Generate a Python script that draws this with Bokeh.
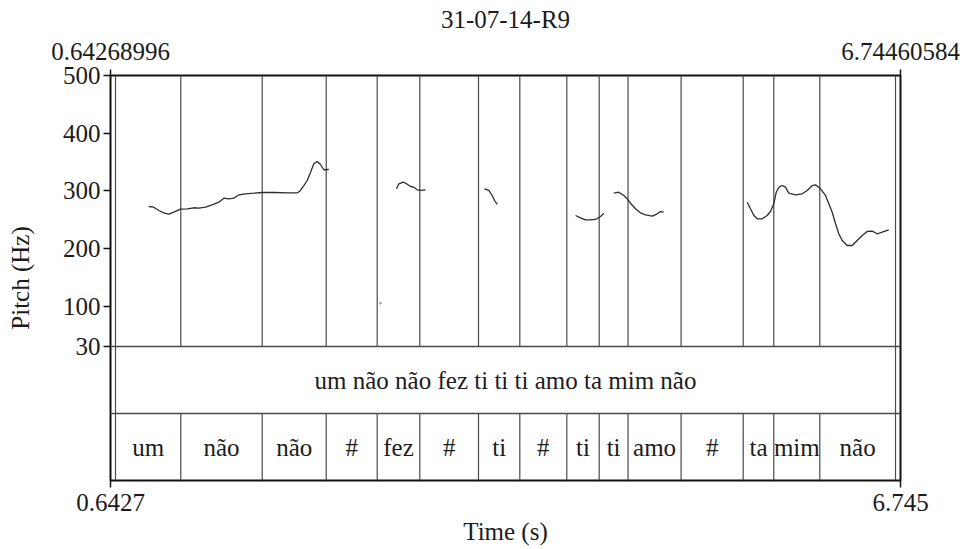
from bokeh.plotting import figure
from bokeh.models import Range1d, LinearAxis, FixedTicker, ColumnDataSource
from bokeh.core.properties import value
from bokeh.embed import file_html
from bokeh.resources import INLINE

# ---- data -------------------------------------------------------------
TITLE = "31-07-14-R9"
T_START = 0.64268996
T_END = 6.74460584
F_MIN, F_MAX = 30, 500
y_ticks = [30, 100, 200, 300, 400, 500]

sentence = "um não não fez ti ti ti amo ta mim não"
sentence_bounds = [0.6813, 6.7061]

words = ["um", "não", "não", "#", "fez", "#", "ti", "#", "ti", "ti",
         "amo", "#", "ta", "mim", "não"]
word_bounds = [0.6813, 1.1857, 1.8144, 2.3088, 2.7027, 3.0317, 3.4851,
               3.8041, 4.1672, 4.4174, 4.6400, 5.0500, 5.5296, 5.7660,
               6.1213, 6.7061]

# pitch contour pieces (time in s, F0 in Hz)
um_nao_t = [0.939, 0.977, 1.016, 1.054, 1.093, 1.132, 1.183, 1.235, 1.286,
            1.325, 1.377, 1.428, 1.479, 1.518, 1.556, 1.595, 1.634, 1.685,
            1.750, 1.814, 1.904, 2.008, 2.085, 2.105, 2.136, 2.162, 2.188,
            2.213, 2.239, 2.265, 2.290, 2.329]
um_nao_hz = [272.8, 271.6, 265.9, 261.9, 259.5, 262.9, 268.1, 268.8, 270.6,
             269.9, 271.6, 275.8, 280.3, 287.2, 286.0, 287.2, 293.1, 294.8,
             295.9, 297.1, 297.1, 296.6, 296.6, 299.3, 309.2, 317.9, 332.3,
             346.9, 350.8, 345.6, 336.5, 337.0]

fez_t = [2.852, 2.870, 2.904, 2.929, 2.960, 2.985, 3.012, 3.037, 3.076]
fez_hz = [303.5, 312.2, 315.0, 312.2, 307.5, 306.3, 301.8, 300.6, 301.8]

ti_t = [3.531, 3.565, 3.591, 3.609, 3.630]
ti_hz = [303.5, 300.6, 291.9, 283.2, 276.3]

ti_ti_t = [4.235, 4.273, 4.312, 4.350, 4.389, 4.428, 4.453]
ti_ti_hz = [257.2, 253.2, 249.7, 249.7, 250.3, 255.5, 261.2]

amo_t = [4.530, 4.569, 4.607, 4.634, 4.659, 4.698, 4.736, 4.775, 4.827,
         4.865, 4.891, 4.916]
amo_hz = [295.9, 297.6, 291.9, 286.2, 278.5, 268.8, 261.9, 258.4, 256.0,
          260.1, 264.1, 262.9]

ta_mim_nao_t = [5.561, 5.586, 5.612, 5.638, 5.676, 5.715, 5.741, 5.766,
                5.785, 5.805, 5.831, 5.856, 5.882, 5.934, 5.985, 6.024,
                6.063, 6.088, 6.127, 6.165, 6.191, 6.217, 6.243, 6.268,
                6.294, 6.333, 6.372, 6.410, 6.449, 6.487, 6.526, 6.565,
                6.603, 6.654]
ta_mim_nao_hz = [280.3, 268.8, 257.2, 251.5, 251.5, 257.2, 264.6, 277.5,
                 297.6, 306.3, 309.2, 306.3, 295.9, 293.1, 294.8, 300.6,
                 309.2, 310.4, 303.5, 291.9, 277.5, 262.9, 242.8, 225.5,
                 213.8, 205.2, 205.2, 213.8, 222.5, 229.5, 230.0, 225.5,
                 228.2, 232.4]

stray_t = [2.728]
stray_hz = [105.1]

# ---- layout -----------------------------------------------------------
FONT = "'Liberation Serif', 'Times New Roman', serif"
FS = "25px"
INK = "#1b1b1b"
LINE = "#4a4a4a"

PITCH_PX = 271          # height of the pitch panel
TIER_PX = 67            # height of one annotation tier
N_TIERS = 2
hz_per_px = (F_MAX - F_MIN) / PITCH_PX
y_bottom = F_MIN - N_TIERS * TIER_PX * hz_per_px
tier_top = (PITCH_PX + N_TIERS * TIER_PX) / TIER_PX

p = figure(width=965, height=549, output_backend="svg", toolbar_location=None,
           x_range=Range1d(T_START, T_END), y_range=Range1d(y_bottom, F_MAX),
           x_axis_type=None, y_axis_type=None,
           min_border_left=110, min_border_right=65,
           min_border_top=75, min_border_bottom=69)
p.extra_y_ranges = {"tier": Range1d(0, tier_top)}
p.background_fill_color = "white"
p.border_fill_color = "white"
p.outline_line_color = "#111111"
p.outline_line_width = 2
p.xgrid.visible = False
p.ygrid.visible = False


def style_axis(ax):
    ax.axis_line_color = None
    ax.major_tick_line_color = "#111111"
    ax.major_tick_line_width = 1.5
    ax.major_tick_in = 0
    ax.major_tick_out = 7
    ax.minor_tick_line_color = None
    ax.major_label_text_font = FONT
    ax.major_label_text_font_size = FS
    ax.major_label_text_color = INK
    ax.axis_label_text_font = FONT
    ax.axis_label_text_font_size = FS
    ax.axis_label_text_font_style = "normal"
    ax.axis_label_text_color = INK


left = LinearAxis(ticker=FixedTicker(ticks=y_ticks), axis_label="Pitch (Hz)")
style_axis(left)
left.major_label_standoff = 3
left.axis_label_standoff = 26
p.add_layout(left, "left")

bottom = LinearAxis(ticker=FixedTicker(ticks=[T_START, T_END]),
                    axis_label="Time (s)")
style_axis(bottom)
bottom.major_label_overrides = {T_START: "0.6427", T_END: "6.745"}
bottom.major_label_standoff = 6
bottom.axis_label_standoff = 4
p.add_layout(bottom, "below")

top = LinearAxis(ticker=FixedTicker(ticks=[T_START, T_END]), axis_label=TITLE)
style_axis(top)
top.major_tick_out = 6
top.major_label_overrides = {T_START: "0.64268996", T_END: "6.74460584"}
top.major_label_standoff = 10
top.axis_label_standoff = 7
p.add_layout(top, "above")

# interval boundaries through the pitch panel
p.segment(x0=word_bounds, y0=[F_MIN] * len(word_bounds),
          x1=word_bounds, y1=[F_MAX] * len(word_bounds),
          line_color=LINE, line_width=1.2)

# tier separators
p.segment(x0=[T_START, T_START], y0=[1, 2], x1=[T_END, T_END], y1=[1, 2],
          y_range_name="tier", line_color=LINE, line_width=1.4)

# sentence tier
p.segment(x0=sentence_bounds, y0=[1, 1], x1=sentence_bounds, y1=[2, 2],
          y_range_name="tier", line_color=LINE, line_width=1.2)
p.text(x=[(sentence_bounds[0] + sentence_bounds[1]) / 2], y=[1.5],
       text=[sentence], y_range_name="tier",
       text_font=value(FONT), text_font_size=FS, text_color=INK,
       text_align="center", text_baseline="middle")

# word tier
p.segment(x0=word_bounds, y0=[0] * len(word_bounds),
          x1=word_bounds, y1=[1] * len(word_bounds),
          y_range_name="tier", line_color=LINE, line_width=1.2)
mids = [(a + b) / 2 for a, b in zip(word_bounds[:-1], word_bounds[1:])]
src = ColumnDataSource(dict(x=mids, y=[0.5] * len(mids), w=words))
p.text(x="x", y="y", text="w", source=src, y_range_name="tier",
       text_font=value(FONT), text_font_size=FS, text_color=INK,
       text_align="center", text_baseline="middle")

# pitch contour
for t, f in [(um_nao_t, um_nao_hz), (fez_t, fez_hz), (ti_t, ti_hz),
             (ti_ti_t, ti_ti_hz), (amo_t, amo_hz),
             (ta_mim_nao_t, ta_mim_nao_hz)]:
    p.line(t, f, line_color="#2e2e2e", line_width=1.3)
p.scatter(stray_t, stray_hz, size=2, color="#aaaaaa")

open("out.html", "w").write(file_html(p, INLINE))
